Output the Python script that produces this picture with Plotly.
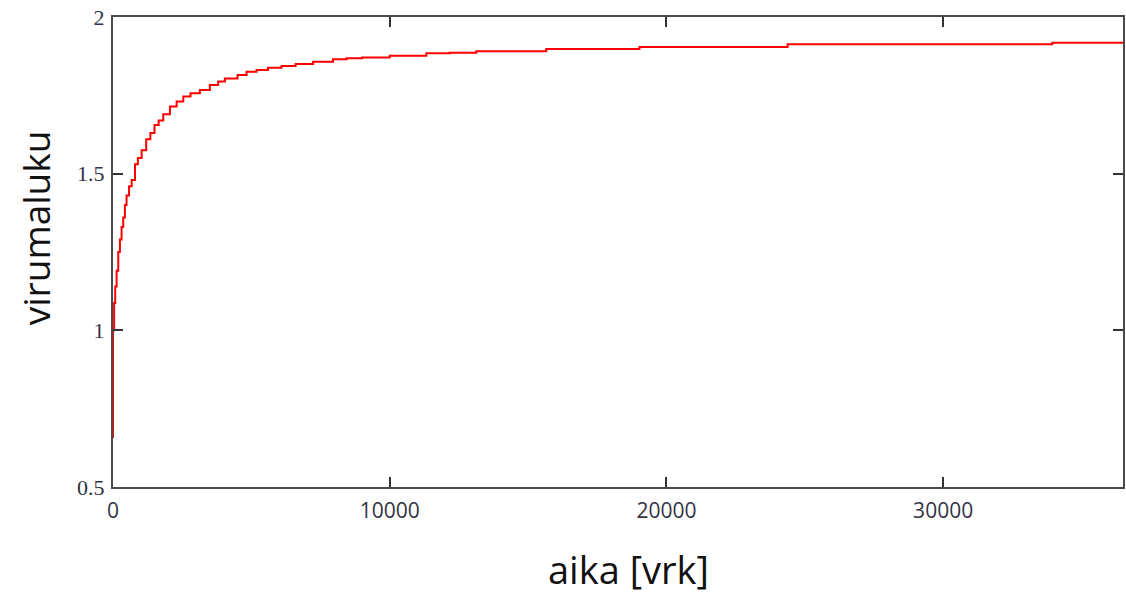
import plotly.graph_objects as go

# Step curve (time in days, virus count)
aika = [0, 0, 40, 80, 130, 190, 250, 310, 370, 430, 490, 580, 675, 795, 900,
        1035, 1200, 1350, 1500, 1650, 1816, 2058, 2300, 2540, 2800, 3140, 3500,
        3800, 4043, 4500, 4826, 5188, 5600, 6090, 6600, 7231, 7953, 8436, 9000,
        10000, 11324, 12166, 13130, 15657, 19025, 24380, 33946, 36500]
virumaluku = [0.656, 1.0, 1.087, 1.14, 1.19, 1.25, 1.29, 1.33, 1.36, 1.40, 1.43,
              1.46, 1.48, 1.53, 1.55, 1.575, 1.61, 1.63, 1.655, 1.67, 1.69, 1.714,
              1.73, 1.746, 1.757, 1.767, 1.783, 1.794, 1.804, 1.815, 1.825, 1.831,
              1.838, 1.844, 1.850, 1.857, 1.865, 1.868, 1.871, 1.876, 1.884, 1.886,
              1.891, 1.898, 1.904, 1.913, 1.918, 1.918]

x_ticks = [0, 10000, 20000, 30000]
x_ticklabels = ["0", "10000", "20000", "30000"]
y_ticks = [0.5, 1, 1.5, 2]
y_ticklabels = ["0.5", "1", "1.5", "2"]

fig = go.Figure()
fig.add_trace(go.Scatter(x=aika, y=virumaluku, mode="lines",
                         line=dict(color="#ff0000", width=2, shape="hv"),
                         showlegend=False, hoverinfo="skip"))

fig.update_layout(
    width=1126, height=595,
    margin=dict(l=113, r=1, t=17, b=108),
    paper_bgcolor="white", plot_bgcolor="white",
    xaxis=dict(
        range=[0, 36500], tickvals=x_ticks, ticktext=x_ticklabels,
        showgrid=False, zeroline=False,
        showline=True, linecolor="#4a4a4a", linewidth=2, mirror="ticks",
        ticks="inside", ticklen=10, tickwidth=1.5, tickcolor="#333333",
        tickfont=dict(family="Open Sans", size=21, color="#333344"),
        ticklabelstandoff=4,
    ),
    yaxis=dict(
        range=[0.5, 2], tickvals=y_ticks, ticktext=y_ticklabels,
        showgrid=False, zeroline=False,
        showline=True, linecolor="#4a4a4a", linewidth=2, mirror="ticks",
        ticks="inside", ticklen=10, tickwidth=1.5, tickcolor="#333333",
        tickfont=dict(family="Liberation Serif", size=22, color="#333344"),
        ticklabelstandoff=2,
    ),
    annotations=[
        dict(text="aika [vrk]", xref="paper", yref="paper", x=0.51, y=-0.1745,
             xanchor="center", yanchor="middle", showarrow=False,
             font=dict(family="Open Sans", size=38, color="#111111")),
        dict(text="virumaluku", xref="paper", yref="paper", x=-0.077, y=0.551,
             xanchor="center", yanchor="middle", showarrow=False, textangle=-90,
             font=dict(family="Open Sans", size=37, color="#111111")),
    ],
)

fig.write_html("out.html", config={"displayModeBar": False},
               post_script="document.body.style.margin='0';")
